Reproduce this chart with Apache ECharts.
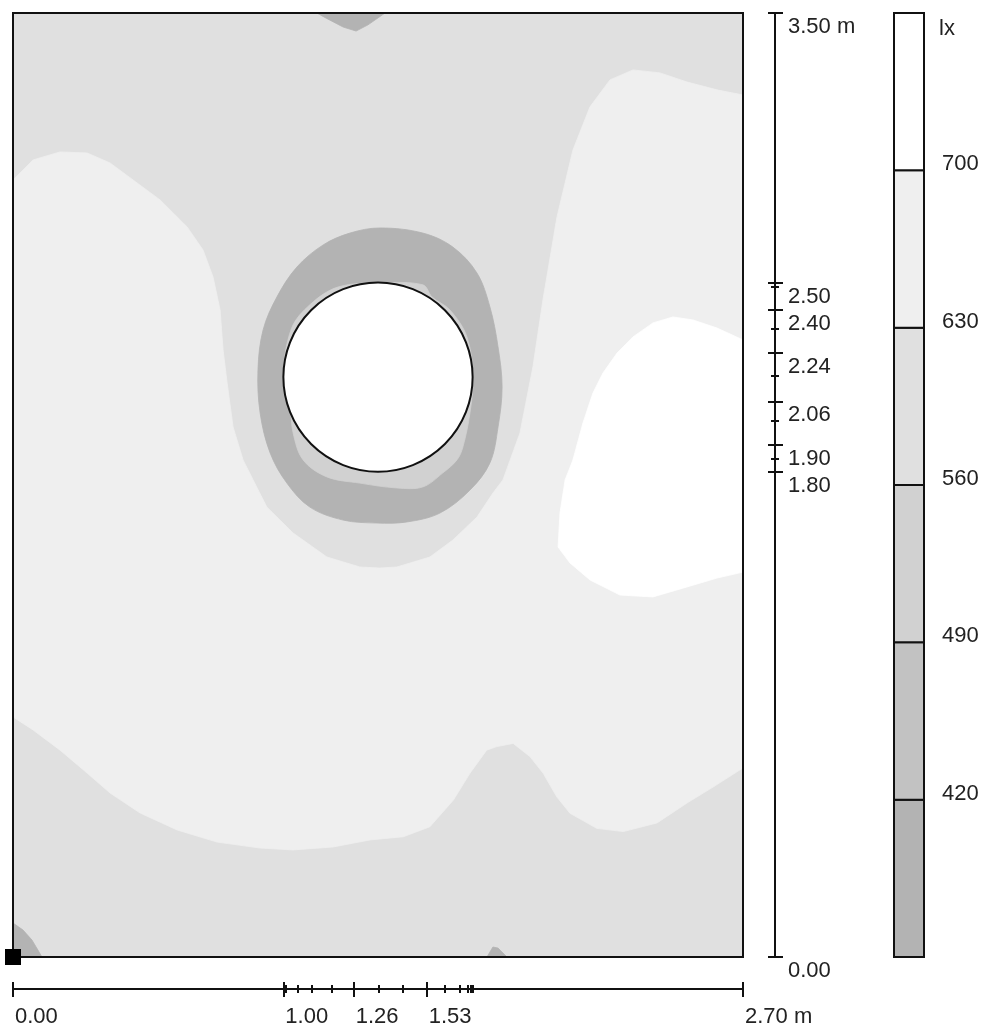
<!DOCTYPE html>
<html><head><meta charset="utf-8">
<script src="https://cdn.jsdelivr.net/npm/echarts@6/dist/echarts.min.js"></script>
<style>html,body{margin:0;padding:0;background:#fff}#c{width:984px;height:1030px}</style>
</head><body><div id="c"></div><script>
// ---- data (metres / lux) ----
const xMax = 2.70, yMax = 3.50;
const xMajor = [0, 1.00, 1.26, 1.53, 2.70];
const xMinor = [1.01, 1.055, 1.106, 1.18, 1.354, 1.443, 1.598, 1.653, 1.683, 1.694, 1.701];
const yMajor = [0, 1.80, 1.90, 2.06, 2.24, 2.40, 2.50, 3.50];
const yMinor = [1.846, 1.987, 2.154, 2.328, 2.486];
const levels = [420, 490, 560, 630, 700];
const legendMin = 350, legendMax = 770;
const origin = [[0, 0]];
const columnCenter = [1.35, 2.15];
const columnRadius = 0.35;

const basePoly = [[0,0],[2.70,0],[2.70,3.50],[0,3.50]];
const lightBand = [
 [0,0.890],[0,2.881],[0.074,2.955],[0.174,2.985],[0.274,2.981],[0.359,2.944],[0.444,2.881],[0.544,2.807],
 [0.644,2.707],[0.703,2.621],[0.740,2.521],[0.766,2.399],[0.777,2.251],[0.792,2.128],[0.814,1.965],[0.851,1.843],
 [0.888,1.769],[0.939,1.668],[1.036,1.572],[1.161,1.483],[1.283,1.446],[1.357,1.442],[1.420,1.446],[1.542,1.483],
 [1.627,1.546],[1.716,1.631],[1.775,1.720],[1.812,1.769],[1.875,1.943],[1.923,2.188],[1.960,2.436],[2.012,2.744],
 [2.071,2.992],[2.134,3.152],[2.208,3.252],[2.293,3.289],[2.393,3.278],[2.493,3.244],[2.604,3.215],[2.70,3.196],
 [2.70,0.701],[2.589,0.630],[2.493,0.571],[2.382,0.497],[2.257,0.465],[2.159,0.477],[2.060,0.533],[2.011,0.594],
 [1.961,0.681],[1.912,0.743],[1.850,0.792],[1.789,0.780],[1.752,0.767],[1.690,0.681],[1.629,0.582],[1.542,0.483],
 [1.444,0.446],[1.320,0.434],[1.184,0.408],[1.036,0.397],[0.914,0.404],[0.755,0.426],[0.607,0.471],[0.470,0.534],
 [0.359,0.608],[0.274,0.682],[0.174,0.767],[0.074,0.842]
];
const whiteZone = [
 [2.70,2.288],[2.604,2.332],[2.515,2.362],[2.441,2.373],[2.367,2.351],[2.293,2.299],[2.234,2.239],[2.182,2.165],
 [2.145,2.091],[2.108,1.980],[2.071,1.843],[2.042,1.769],[2.023,1.646],[2.016,1.520],[2.060,1.461],[2.134,1.398],
 [2.245,1.342],[2.367,1.335],[2.493,1.372],[2.604,1.405],[2.70,1.427]
];
const topPatch = [[1.124,3.50],[1.160,3.480],[1.221,3.448],[1.269,3.433],[1.313,3.456],[1.376,3.50]];
const cornerPatch = [[0,0],[0,0.126],[0.037,0.100],[0.070,0.063],[0.092,0.026],[0.107,0]];
const bottomPatch = [[1.753,0],[1.775,0.037],[1.794,0.033],[1.827,0]];
const ringOuter = [
 [1.357,2.703],[1.516,2.684],[1.627,2.632],[1.716,2.536],[1.764,2.410],[1.794,2.262],[1.809,2.113],[1.794,1.965],
 [1.764,1.832],[1.690,1.731],[1.579,1.646],[1.457,1.613],[1.346,1.609],[1.221,1.620],[1.098,1.668],[1.013,1.757],
 [0.951,1.869],[0.914,2.017],[0.906,2.176],[0.925,2.325],[0.976,2.447],[1.050,2.558],[1.147,2.640],[1.246,2.684]
];
const ringInner = [
 [1.202,2.484],[1.357,2.499],[1.516,2.492],[1.550,2.447],[1.616,2.399],[1.679,2.299],[1.701,2.150],[1.690,2.017],
 [1.664,1.891],[1.642,1.843],[1.590,1.795],[1.516,1.743],[1.420,1.739],[1.283,1.757],[1.161,1.780],[1.073,1.843],
 [1.036,1.943],[1.025,2.039],[1.00,2.15],[1.03,2.33],[1.10,2.42]
];

// ---- styling ----
const bandColors = ['#b3b3b3','#c2c2c2','#d1d1d1','#e0e0e0','#efefef','#ffffff'];
const INK = '#111';
const FONT = 'Liberation Sans, Arial, sans-serif';
const regionList = [basePoly, lightBand, whiteZone, topPatch, cornerPatch, bottomPatch, ringOuter, ringInner];
const regionColor = [3, 4, 5, 0, 0, 0, 0, 2];
const regionSmooth = [0, 0, 0, 0, 0, 0, 0.35, 0.35];
const bandLo = [legendMin].concat(levels);
const bandHi = levels.concat([legendMax]);

const chart = echarts.init(document.getElementById('c'), null, {renderer: 'canvas'});

function fmt(v) { return Math.abs(v - xMax) < 1e-9 || Math.abs(v - yMax) < 1e-9 ? v.toFixed(2) + ' m' : v.toFixed(2); }
const labelBase = {fontFamily: FONT, fontSize: 22, color: '#222'};

function dimX(values, len, inside, withLine, withLabel) {
  return {gridIndex: 0, type: 'value', min: 0, max: xMax, position: 'bottom', offset: 32, z: 6,
    axisLine: {show: withLine, onZero: false, lineStyle: {color: INK, width: 2}},
    axisTick: {show: true, customValues: values, length: len, inside: inside, lineStyle: {color: INK, width: 2}},
    axisLabel: withLabel ? Object.assign({show: true, customValues: values, formatter: fmt, align: 'left', margin: 17, padding: [0,0,0,2]}, labelBase) : {show: false},
    splitLine: {show: false}};
}
function dimY(values, len, inside, withLine, withLabel) {
  return {gridIndex: 0, type: 'value', min: 0, max: yMax, position: 'right', offset: 32, z: 6,
    axisLine: {show: withLine, onZero: false, lineStyle: {color: INK, width: 2}},
    axisTick: {show: true, customValues: values, length: len, inside: inside, lineStyle: {color: INK, width: 2}},
    axisLabel: withLabel ? Object.assign({show: true, customValues: values, formatter: fmt, verticalAlign: 'top', margin: 13, padding: [3,0,0,0]}, labelBase) : {show: false},
    splitLine: {show: false}};
}

const option = {
  animation: false,
  backgroundColor: '#fff',
  grid: [
    {left: 13, top: 13, width: 730, height: 944, show: true, z: 5, backgroundColor: 'transparent', borderColor: INK, borderWidth: 2},
    {left: 894, top: 13, width: 30, height: 944, show: false}
  ],
  xAxis: [
    {gridIndex: 0, type: 'value', min: 0, max: xMax, show: false},
    dimX(xMajor, 8, false, true, true),
    dimX(xMajor, 7, true, false, false),
    dimX(xMinor, 4, false, false, false),
    dimX(xMinor, 4, true, false, false),
    {gridIndex: 1, type: 'value', min: 0, max: 1, show: false}
  ],
  yAxis: [
    {gridIndex: 0, type: 'value', min: 0, max: yMax, show: false},
    dimY(yMajor, 8, false, true, true),
    dimY(yMajor, 7, true, false, false),
    dimY(yMinor, 4, false, false, false),
    dimY(yMinor, 4, true, false, false),
    {gridIndex: 1, type: 'value', min: legendMin, max: legendMax, interval: 70, position: 'right',
     axisLine: {show: false, onZero: false}, axisTick: {show: false}, splitLine: {show: false},
     axisLabel: Object.assign({customValues: levels, margin: 18, verticalAlign: 'bottom', padding: [0,0,-5,0]}, labelBase)}
  ],
  graphic: [{type: 'text', left: 939, top: 18, style: {text: 'lx', font: '22px ' + FONT, fill: '#222'}}],
  series: [
    {type: 'custom', coordinateSystem: 'cartesian2d', xAxisIndex: 0, yAxisIndex: 0, silent: true, clip: true, z: 2,
     data: regionList.map((r, i) => [i]),
     renderItem: function (params, api) {
       const pts = regionList[params.dataIndex].map(p => api.coord(p));
       const col = bandColors[regionColor[params.dataIndex]];
       return {type: 'polygon', shape: {points: pts, smooth: regionSmooth[params.dataIndex]},
               style: {fill: col, stroke: col, lineWidth: 0.8}};
     }},
    {type: 'custom', coordinateSystem: 'cartesian2d', xAxisIndex: 0, yAxisIndex: 0, silent: true, z: 3,
     data: [columnCenter],
     renderItem: function (params, api) {
       const c = api.coord([api.value(0), api.value(1)]);
       const r = api.size([columnRadius, 0])[0];
       return {type: 'circle', shape: {cx: c[0], cy: c[1], r: r}, style: {fill: '#fff', stroke: INK, lineWidth: 2}};
     }},
    {type: 'scatter', xAxisIndex: 0, yAxisIndex: 0, data: origin, symbol: 'rect', symbolSize: 16, clip: false, z: 10,
     itemStyle: {color: '#000', opacity: 1}, silent: true},
    {type: 'custom', coordinateSystem: 'cartesian2d', xAxisIndex: 5, yAxisIndex: 5, silent: true, z: 3,
     data: bandLo.map((lo, i) => [lo, bandHi[i]]),
     renderItem: function (params, api) {
       const p1 = api.coord([0, api.value(1)]);
       const p2 = api.coord([1, api.value(0)]);
       return {type: 'rect', shape: {x: p1[0], y: p1[1], width: p2[0] - p1[0], height: p2[1] - p1[1]},
               style: {fill: bandColors[params.dataIndex], stroke: INK, lineWidth: 2}};
     }}
  ]
};
chart.setOption(option);
</script></body></html>
